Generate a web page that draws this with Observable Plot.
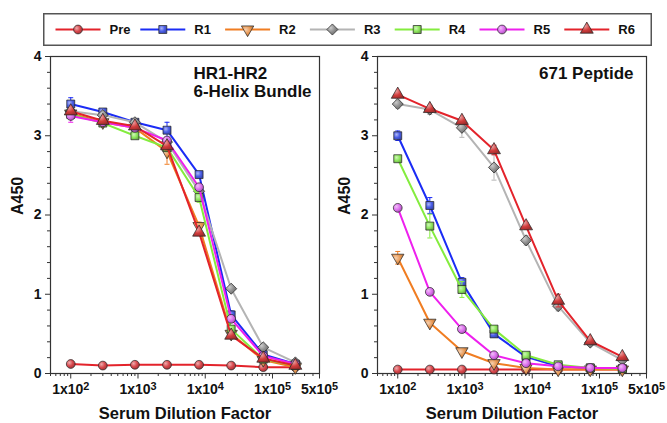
<!DOCTYPE html>
<html><head><meta charset="utf-8">
<script src="https://cdn.jsdelivr.net/npm/d3@7"></script>
<script src="https://cdn.jsdelivr.net/npm/@observablehq/plot@0.6"></script>
<style>
body{margin:0;background:#fff;font-family:"Liberation Sans",Arial,sans-serif;}
#wrap{position:relative;width:667px;height:423px;overflow:hidden;background:#fff;}
#left,#right{position:absolute;top:0;}
#left{left:0}#right{left:333px}
#legend{position:absolute;left:43px;top:13px;}
</style></head><body>
<svg width="0" height="0" style="position:absolute"><defs id="grads"></defs></svg>
<div id="wrap"><div id="left"></div><div id="right"></div><svg id="legend" width="609" height="33"></svg></div>
<script>
// ---------- data ----------
const dilutions = [100, 300, 900, 2700, 8100, 24300, 72900, 218700];
const seriesNames = ["Pre", "R1", "R2", "R3", "R4", "R5", "R6"];

// HR1-HR2 6-Helix Bundle panel
const helixPre = [0.12, 0.10, 0.11, 0.11, 0.11, 0.10, 0.08, 0.08];
const helixR1  = [3.40, 3.30, 3.17, 3.07, 2.51, 0.74, 0.24, 0.12];
const helixR2  = [3.28, 3.17, 3.10, 2.80, 1.86, 0.50, 0.17, 0.08];
const helixR3  = [3.31, 3.26, 3.17, 2.92, 2.30, 1.07, 0.33, 0.14];
const helixR4  = [3.27, 3.16, 3.00, 2.85, 2.22, 0.56, 0.18, 0.10];
const helixR5  = [3.25, 3.17, 3.10, 2.94, 2.35, 0.69, 0.22, 0.12];
const helixR6  = [3.31, 3.19, 3.12, 2.87, 1.78, 0.48, 0.19, 0.10];
const helixErrPre = [0.01, 0.01, 0.01, 0.01, 0.01, 0.01, 0.01, 0.01];
const helixErrR1  = [0.08, 0.04, 0.03, 0.10, 0.04, 0.05, 0.02, 0.01];
const helixErrR2  = [0.05, 0.04, 0.03, 0.16, 0.05, 0.03, 0.01, 0.01];
const helixErrR3  = [0.05, 0.04, 0.04, 0.05, 0.04, 0.03, 0.02, 0.01];
const helixErrR4  = [0.05, 0.04, 0.03, 0.05, 0.06, 0.04, 0.01, 0.01];
const helixErrR5  = [0.08, 0.04, 0.03, 0.04, 0.04, 0.03, 0.01, 0.01];
const helixErrR6  = [0.04, 0.04, 0.03, 0.05, 0.04, 0.03, 0.01, 0.01];

// 671 Peptide panel
const peptidePre = [0.05, 0.05, 0.05, 0.05, 0.05, 0.05, 0.05, 0.05];
const peptideR1  = [3.00, 2.12, 1.15, 0.50, 0.21, 0.09, 0.07, 0.06];
const peptideR2  = [1.46, 0.64, 0.28, 0.13, 0.07, 0.05, 0.05, 0.05];
const peptideR3  = [3.40, 3.33, 3.10, 2.60, 1.68, 0.85, 0.39, 0.17];
const peptideR4  = [2.71, 1.86, 1.06, 0.56, 0.23, 0.11, 0.07, 0.06];
const peptideR5  = [2.09, 1.03, 0.56, 0.23, 0.13, 0.09, 0.07, 0.07];
const peptideR6  = [3.52, 3.34, 3.19, 2.82, 1.86, 0.92, 0.41, 0.21];
const peptideErrPre = [0.01, 0.01, 0.01, 0.01, 0.01, 0.01, 0.01, 0.01];
const peptideErrR1  = [0.06, 0.10, 0.06, 0.04, 0.02, 0.01, 0.01, 0.01];
const peptideErrR2  = [0.08, 0.04, 0.03, 0.02, 0.01, 0.01, 0.01, 0.01];
const peptideErrR3  = [0.05, 0.06, 0.12, 0.16, 0.06, 0.06, 0.03, 0.02];
const peptideErrR4  = [0.03, 0.15, 0.10, 0.04, 0.02, 0.01, 0.01, 0.01];
const peptideErrR5  = [0.03, 0.03, 0.03, 0.02, 0.01, 0.01, 0.01, 0.01];
const peptideErrR6  = [0.04, 0.04, 0.04, 0.06, 0.04, 0.08, 0.03, 0.02];

const xTickValues = [100, 1000, 10000, 100000, 500000];
const xTickLabels = ["1x10^2", "1x10^3", "1x10^4", "1x10^5", "5x10^5"];
const yTickValues = [0, 1, 2, 3, 4];
const yTickLabels = ["0", "1", "2", "3", "4"];

// ---------- styles ----------
const lineColors   = ["#e3232b", "#1b2cf5", "#f07d22", "#b4b4b4", "#84ec3e", "#ee20ee", "#e3232b"];
const markerColors = ["#d8474c", "#4b5ee8", "#e89650", "#8e8e8e", "#8fe85e", "#dd70ee", "#d23c3c"];
const invTriangle = {draw(ctx, size) {
  const a = Math.sqrt(size / (Math.sqrt(3) / 4)) / 2, h = a * Math.sqrt(3);
  ctx.moveTo(-a, -h / 3); ctx.lineTo(a, -h / 3); ctx.lineTo(0, 2 * h / 3); ctx.closePath();
}};
const capSymbol = {draw(ctx, size) {
  const r = Math.sqrt(size / Math.PI);
  ctx.moveTo(-r, 0); ctx.lineTo(r, 0);
}};
const tickSymbol = {draw(ctx, size) {
  const r = Math.sqrt(size / Math.PI);
  ctx.moveTo(0, 0); ctx.lineTo(0, r);
}};
const symbols = [d3.symbolCircle, d3.symbolSquare, invTriangle, d3.symbolDiamond2, d3.symbolSquare, d3.symbolCircle, d3.symbolTriangle];
const symbolR = [4.4, 4.5, 4.6, 5.0, 4.5, 4.4, 4.8];

// gradients
const defs = d3.select("#grads");
markerColors.forEach((c, k) => {
  const g = defs.append("radialGradient").attr("id", "g" + k).attr("cx", "35%").attr("cy", "35%").attr("r", "70%");
  g.append("stop").attr("offset", "0%").attr("stop-color", d3.interpolateRgb(c, "#fff")(0.55));
  g.append("stop").attr("offset", "55%").attr("stop-color", c);
  g.append("stop").attr("offset", "100%").attr("stop-color", d3.color(c).darker(0.8));
});

const font = "'Liberation Sans', Arial, Helvetica, sans-serif";

function superscripts(svg) {
  d3.select(svg).selectAll("text").each(function() {
    const t = d3.select(this);
    const s = t.text();
    if (!s.includes("^") || t.selectAll("tspan").size() > 1) return;
    const [base, exp] = s.split("^");
    const target = t.select("tspan").empty() ? t : t.select("tspan");
    target.text(null);
    target.append("tspan").text(base);
    target.append("tspan").attr("dy", "-0.4em").attr("font-size", "0.78em").text(exp);
  });
}

function panel(values, errs, width, marginLeft, marginRight, title, titleOpts) {
  const xMinor = [];
  for (let p = 1; p <= 5; p++) for (let m = 2; m <= 9; m++) {
    const v = m * Math.pow(10, p);
    if (v >= 50 && v <= 500000 && !xTickValues.includes(v)) xMinor.push(v);
  }
  const yMinor = d3.range(0, 4.001, 0.2).filter(v => Math.abs(v - Math.round(v)) > 1e-6);
  const marks = [
    Plot.axisY({ticks: yMinor, tickSize: 3, text: null, stroke: "#333", label: null}),
    Plot.axisY({ticks: yTickValues, tickSize: 5, tickPadding: 4, stroke: "#333", fill: "#111",
      tickFormat: d => yTickLabels[yTickValues.indexOf(d)], fontSize: 14, fontWeight: "bold", label: null}),
    Plot.axisX({ticks: xMinor, tickSize: 3, text: null, stroke: "#333", label: null}),
    Plot.dot(xTickValues, {x: d => d, frameAnchor: "bottom", symbol: tickSymbol, r: 5, stroke: "#333", strokeWidth: 1}),
    Plot.text(xTickValues, {x: d => d, text: (d, i) => xTickLabels[i], frameAnchor: "bottom", lineAnchor: "top", dy: 10.5,
      fontSize: 14, fontWeight: "bold", fill: "#111"}),
    Plot.frame({stroke: "#333", strokeWidth: 1.2}),
    Plot.text(["Serum Dilution Factor"], {frameAnchor: "bottom", dy: 40, lineAnchor: "middle", fontSize: 16.5, fontWeight: "bold", fill: "#111"}),
    Plot.text(["A450"], {frameAnchor: "left", dx: -33, rotate: -90, fontSize: 16, fontWeight: "bold", fill: "#111"}),
    Plot.text([title], {...titleOpts, lineAnchor: "top", fontSize: 17, fontWeight: "bold", lineHeight: 1.08, fill: "#111"})
  ];
  values.forEach((vals, k) => {
    const rows = dilutions.map((x, i) => ({x, y: vals[i], e: errs[k][i]}));
    marks.push(Plot.line(rows, {x: "x", y: "y", stroke: lineColors[k], strokeWidth: 2}));
    marks.push(Plot.ruleX(rows, {x: "x", y1: d => d.y - d.e, y2: d => d.y + d.e, stroke: lineColors[k], strokeWidth: 1}));
    marks.push(Plot.dot(rows, {x: "x", y: d => d.y + d.e, symbol: capSymbol, r: 2.5, stroke: lineColors[k], strokeWidth: 1}));
    marks.push(Plot.dot(rows, {x: "x", y: d => d.y - d.e, symbol: capSymbol, r: 2.5, stroke: lineColors[k], strokeWidth: 1}));
    marks.push(Plot.dot(rows, {x: "x", y: "y", symbol: symbols[k], r: symbolR[k], fill: `url(#g${k})`, stroke: "#222", strokeWidth: 0.7}));
  });
  const svg = Plot.plot({
    width, height: 423, marginLeft, marginRight, marginTop: 56, marginBottom: 50,
    style: {fontFamily: font, background: "transparent", overflow: "visible"},
    x: {type: "log", domain: [50, 500000]},
    y: {domain: [0, 4]},
    marks
  });
  superscripts(svg);
  return svg;
}

document.getElementById("left").append(panel(
  [helixPre, helixR1, helixR2, helixR3, helixR4, helixR5, helixR6],
  [helixErrPre, helixErrR1, helixErrR2, helixErrR3, helixErrR4, helixErrR5, helixErrR6],
  333, 50, 14, "HR1-HR2\n6-Helix Bundle", {frameAnchor: "top-left", dx: 143, dy: 9, textAnchor: "start"}));
document.getElementById("right").append(panel(
  [peptidePre, peptideR1, peptideR2, peptideR3, peptideR4, peptideR5, peptideR6],
  [peptideErrPre, peptideErrR1, peptideErrR2, peptideErrR3, peptideErrR4, peptideErrR5, peptideErrR6],
  334, 44, 21, "671 Peptide", {frameAnchor: "top-right", dx: -13, dy: 9, textAnchor: "end"}));

// ---------- legend ----------
const lg = d3.select("#legend");
lg.append("rect").attr("x", 0.75).attr("y", 0.75).attr("width", 607.5).attr("height", 31.5)
  .attr("fill", "#fff").attr("stroke", "#555").attr("stroke-width", 1.5);
seriesNames.forEach((name, k) => {
  const x0 = 12.5 + k * 84.8, cy = 16.5;
  lg.append("line").attr("x1", x0).attr("x2", x0 + 45).attr("y1", cy).attr("y2", cy)
    .attr("stroke", lineColors[k]).attr("stroke-width", 2);
  lg.append("path").attr("d", d3.symbol(symbols[k], Math.PI * symbolR[k] * symbolR[k])())
    .attr("transform", `translate(${x0 + 22.5},${cy})`)
    .attr("fill", `url(#g${k})`).attr("stroke", "#222").attr("stroke-width", 0.7);
  lg.append("text").attr("x", x0 + 54).attr("y", cy).attr("dy", "0.35em")
    .attr("font-family", font).attr("font-weight", "bold").attr("font-size", 13).attr("fill", "#111").text(name);
});
</script>
</body></html>
